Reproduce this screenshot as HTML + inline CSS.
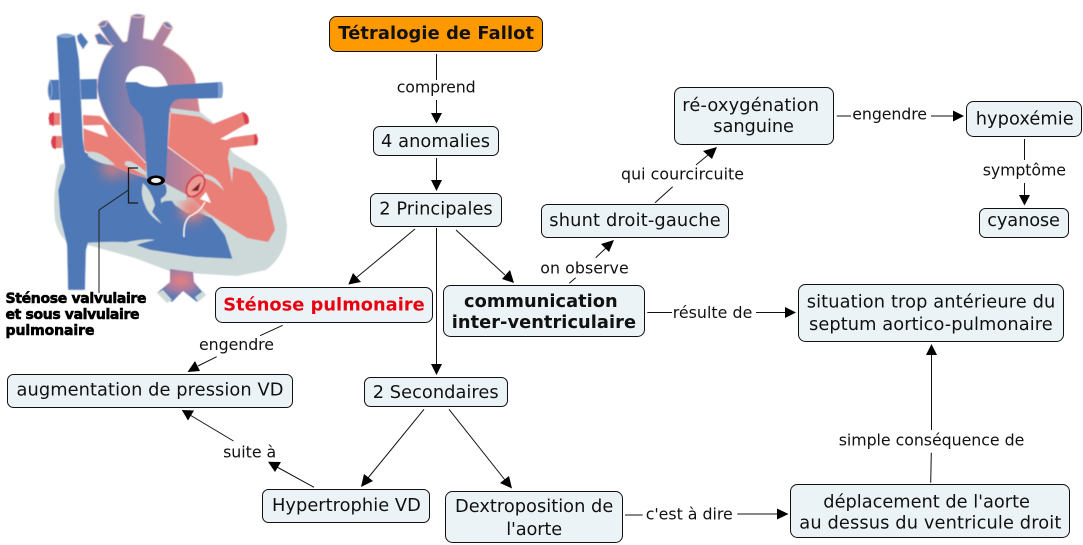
<!DOCTYPE html>
<html><head><meta charset="utf-8"><style>
html,body{margin:0;padding:0;background:#fff}
svg{display:block}
text{font-family:"DejaVu Sans","Liberation Sans",sans-serif;fill:#111}
.n{font-size:17.8px}
.b{font-size:17.8px;font-weight:bold}
.l{font-size:15.8px}
.r{fill:#ecf3f6;stroke:#111;stroke-width:1}
.c{stroke:#111;stroke-width:1;fill:none}
.a{fill:#000;stroke:none}
.h{font-size:14px;font-weight:bold;fill:#000;stroke:#000;stroke-width:.6}
</style></head><body>
<svg width="1083" height="545" viewBox="0 0 1083 545" xmlns="http://www.w3.org/2000/svg">
<defs>
<linearGradient id="ao" gradientUnits="userSpaceOnUse" x1="97" y1="0" x2="195" y2="0"><stop offset="0" stop-color="#5579b5"/><stop offset=".45" stop-color="#9a80a6"/><stop offset="1" stop-color="#cf8391"/></linearGradient>
<linearGradient id="tr" gradientUnits="userSpaceOnUse" x1="160" y1="0" x2="200" y2="0"><stop offset="0" stop-color="#9c7ea4"/><stop offset="1" stop-color="#d6838c"/></linearGradient>
<radialGradient id="ivc" cx=".5" cy=".35" r=".55"><stop offset="0" stop-color="#e87f7f"/><stop offset=".55" stop-color="#a87da0"/><stop offset="1" stop-color="#5379b6"/></radialGradient>
<filter id="s" x="-5%" y="-5%" width="110%" height="110%"><feGaussianBlur stdDeviation=".55"/></filter>
<filter id="s2" x="-60%" y="-60%" width="220%" height="220%"><feGaussianBlur stdDeviation="6"/></filter>
</defs>

<!-- heart illustration -->
<g filter="url(#s)">
<path fill="#cdd9d9" d="M60,165 Q52,190 55,220 Q60,240 72,245 L88,245 L135,258 L172,272 L237,276 L266,270 Q287,255 287,225 Q283,190 263,172 L233,153 L225,165 L213,122 L200,112 L170,108 L170,155 L90,152 Z"/>
<!-- pulmonary veins -->
<path fill="#ea7f78" d="M49,113 L60,113 L60,125 L49,125 Z M52,136 L62,136 L62,148 L52,148 Z"/>
<path fill="#d9404f" d="M48.5,118 Q50,112 54,112 L54,126 Q50,126 48.5,118 Z M51,142 Q52,135 56,136 L56,149 Q52,149 51,142 Z"/>
<path fill="#ea7f78" d="M83,115 L100,116 L112,127 L146,163 L146,178 L125,172 L100,160 L84,150 Z"/>
<path fill="#fff" d="M83,125.5 L103,125 L108,137 L84,128.5 Z"/>
<!-- aorta -->
<path fill="url(#ao)" stroke="#f2cccc" stroke-width=".8" d="M97,86 Q99,62 112,47 L98,25 L108,21 L123,42 Q125,42 127,41 L131,16 L145,16 L143,38 L153,40 L163,23 L173,28 L163,45 Q188,57 195,78 L200,113 L170,113 L168,147 L146,163 L112,127 Q98,105 97,86 Z"/>
<path fill="url(#ao)" stroke="#f2cccc" stroke-width=".8" d="M94.5,35 L100,33 L113,46 L98,44 Z"/>
<path fill="#6f84b4" stroke="#f2bcbc" stroke-width="1" d="M98,25 Q102,19 108,21 L105,26 Q100,28 98,25 Z"/>
<path fill="#6f84b4" stroke="#f2bcbc" stroke-width="1" d="M131,16 Q138,12 145,16 Q138,19 131,16 Z"/>
<path fill="#6f84b4" stroke="#f2bcbc" stroke-width="1" d="M163,23 Q168,19 173,28 Q166,30 163,23 Z"/>
<path fill="#fff" d="M125,84 Q128,67 142,66 Q161,66 168,86 L148,92 Z"/>
<!-- left heart -->
<path fill="#ea7f78" d="M170.7,113 L200,116.7 L213,124 L243,112 L248,123 L220,139 L257,134 L257,145 L230,148 L228,158 L232,183 L233,167 L250,172 L267,197 L275,230 L268,242 L247,238 L223,223 L208,213 L192,198 L203,173 L168,147 Z"/>
<path fill="#d9404f" d="M242,112 Q249,113 249,122 Q248,125 245,124 Z M254,134 Q258,135 258,140 Q258,146 254,145 Z"/>
<path fill="#cdd9d9" d="M230,148 L233,153 L233,172 L228,158 Z"/>
<path fill="#fff" d="M220,139 L240,134 L226,140 Z"/>
<path fill="url(#tr)" d="M167,147 L203,173 L188,198 L163,182 Z"/>
<path stroke="#f8dcd8" stroke-width="1" fill="none" d="M168,147 L203,173"/>
<path stroke="#f8dcd8" stroke-width="1" fill="none" d="M112,127 L146,163"/>
<!-- arm -->
<path fill="#5078b6" d="M50,80 L97,79 L97,99 L50,100 Z"/>
<path fill="#5078b6" stroke="#9ab3d8" stroke-width=".8" d="M50,80 Q46,90 50,100 Q54,90 50,80 Z"/>
<!-- right heart blue -->
<path fill="#5078b6" stroke="#cfe0ee" stroke-width=".4" d="M56.7,36 Q66,32 75,36 L79,60 L83,140 L85,152 Q105,163 128,172 L147,178 L165,190 L175,205 L187,213 L200,213 L212,218 L225,235 L232.7,259 L195,257 L150,250 L138,246 Q132,240 88,243 L86,250 L85,290 L68,290 L67,245 L60,217 L58,190 L65,167 L62,140 Z"/>
<path fill="#88a4cf" d="M57,36 Q66,31 75,36 Q66,40 57,36 Z"/>
<path fill="#5078b6" stroke="#9ab3d8" stroke-width=".7" d="M77,36 L81,33 L88,42 L83,49 L78,41 Z"/>
<circle cx="112" cy="168" r="10" fill="#ea7f78" filter="url(#s2)" opacity=".8"/>
<circle cx="130" cy="168" r="8" fill="#ea7f78" filter="url(#s2)" opacity=".8"/>
<circle cx="193" cy="209" r="12" fill="#ea8078" filter="url(#s2)"/>
<!-- grey strips -->
<path fill="#cdd9d9" d="M88,152 Q100,150 115,165 Q100,165 88,156 Z"/>
<path fill="#cdd9d9" d="M125,162 Q130,158 146,172 L146,176 Q135,170 125,165 Z"/>
<path fill="#cdd9d9" d="M143,183 Q152,192 155,205 L152,212 L162,224 Q148,215 145,205 Q140,195 143,183 Z"/>
<path fill="#cdd9d9" d="M165,183 L187,195 L186,200 L165,201 L161,203 L161,196 Q168,192 165,183 Z"/>
<path fill="#cdd9d9" d="M123,243 Q145,238 155,240 Q140,243 132,247 Z"/>
<path fill="#cdd9d9" d="M204,174 Q218,176 224,191 Q214,180 204,178 Z"/>
<!-- pulmonary artery -->
<path fill="#5078b6" d="M125,82 L137,82 Q148,90 170,85 L222,82 L222,98 L180,99 Q170,100 169,113 L166,178 L147,178 L145,140 L142,117 L130,103 Z"/>
<path fill="#7d9fd0" d="M218,82 L222,82 Q224,90 222,98 L218,98 Z"/>
<path fill="#cdd9d9" d="M170,108 L200,112 L200,116 L171,113 Z"/>
<path fill="#5078b6" d="M150,184 L165,184 Q170,195 160,199 Q150,196 150,184 Z"/>
<!-- inferior vessels -->
<path fill="url(#ivc)" d="M170,269 L193,272 L194,282 L205,295 L197,302 L183,291 L172,302 L157,293 L170,282 Z"/>
<path fill="#cdd9d9" d="M157,293 L163,290 L172,300 L167,303 Z M195,297 L203,291 L206,295 L198,302 Z"/>
<!-- aortic valve -->
<ellipse cx="195.5" cy="186" rx="7.5" ry="12" transform="rotate(35 195.5 186)" fill="#ee9a94" stroke="#d43c4c" stroke-width="1.8"/>
<path fill="#7f1c28" d="M191,191 L201,182 L198,191 Z"/>
<!-- white arrow -->
<path fill="none" stroke="#fff" stroke-width="1.3" d="M184,237 Q183,222 190,216 Q200,212 205,202"/>
<path fill="#fff" d="M200,199 L206,192 L211,203 Z"/>
</g>
<ellipse cx="156" cy="180.5" rx="9" ry="5" fill="#000"/>
<ellipse cx="156" cy="180.5" rx="5" ry="2.5" fill="#f2f2f2"/>
<path d="M138,168 L128.5,168 L128.5,203 L138,203" fill="none" stroke="#1a1a1a" stroke-width="1.3"/>
<path d="M128.5,190 L99,210 L99,293" fill="none" stroke="#2a2a2a" stroke-width="1.1"/>
<text class="h" x="5.5" y="303" textLength="141">Sténose valvulaire</text>
<text class="h" x="5.5" y="319" textLength="134">et sous valvulaire</text>
<text class="h" x="5.5" y="335" textLength="89">pulmonaire</text>

<!-- connectors -->
<g class="c">
<path d="M436.5,54V80M436.5,100V114"/>
<path d="M436.5,158V181"/>
<path d="M415,229L356,278"/>
<path d="M436.5,228V364"/>
<path d="M456,230L505,275"/>
<path d="M569.3,283.3L575.7,277.7M595.7,257.7L606,248"/>
<path d="M655,202.7L672.7,186.7M696,165L708,155"/>
<path d="M836.7,116H851M931,116H953"/>
<path d="M1024.5,139V160M1024.5,183V195"/>
<path d="M647.3,312.5H672M756,312.5H786"/>
<path d="M282.7,325.3L260,335.7M216.7,356.7L198,366"/>
<path d="M314,487.3L277,467"/>
<path d="M233.5,441L190,415"/>
<path d="M424,409.3L368,478"/>
<path d="M449,409.3L505,480"/>
<path d="M625,515H642.7M737.3,514H778"/>
<path d="M930.7,482.7L931.3,452.7M931.5,430V354"/>
</g>
<g class="a">
<path d="M436.5,123.5L431,113H442Z"/>
<path d="M436.5,191L431,180H442Z"/>
<path d="M348.3,284.5L353,273L361,282Z"/>
<path d="M436.5,375L431,364H442Z"/>
<path d="M514,283L502,279L510,270Z"/>
<path d="M614,240L609,252L601,244Z"/>
<path d="M717,147L712,159L703,151Z"/>
<path d="M964,116L953,110.5V121.5Z"/>
<path d="M1024.5,205.5L1019,195H1030Z"/>
<path d="M796,312.5L785,307V318Z"/>
<path d="M187.5,372L195,361L200,371Z"/>
<path d="M268,461.7L281,462L275,472Z"/>
<path d="M181.8,410L194,410.5L188,420.5Z"/>
<path d="M361,487L364,474L373,481Z"/>
<path d="M512,488.5L500,483L509,476Z"/>
<path d="M788.5,514L777,508.5V519.5Z"/>
<path d="M931.5,344L926,355H937Z"/>
</g>

<!-- nodes -->
<rect x="329.5" y="16.5" width="213" height="35" rx="7" fill="#ff9900" stroke="#111"/>
<rect class="r" x="373.5" y="126.5" width="125" height="29" rx="6"/>
<rect class="r" x="370.5" y="193.5" width="131" height="33" rx="6"/>
<rect class="r" x="541.5" y="204.5" width="187" height="33" rx="6"/>
<rect class="r" x="674.5" y="87.5" width="159" height="57" rx="7"/>
<rect class="r" x="966.5" y="101.5" width="115" height="35" rx="7"/>
<rect class="r" x="979.5" y="208.5" width="89" height="29" rx="6"/>
<rect class="r" x="215.5" y="287.5" width="217" height="35" rx="7"/>
<rect class="r" x="443.5" y="285.5" width="201" height="51" rx="7"/>
<rect class="r" x="798.5" y="284.5" width="265" height="57" rx="7"/>
<rect class="r" x="7.5" y="374.5" width="285" height="33" rx="6"/>
<rect class="r" x="364.5" y="377.5" width="143" height="29" rx="6"/>
<rect class="r" x="262.5" y="489.5" width="167" height="33" rx="6"/>
<rect class="r" x="445.5" y="491.5" width="177" height="51" rx="7"/>
<rect class="r" x="790.5" y="484.5" width="279" height="53" rx="7"/>

<!-- node text -->
<text class="b" x="338.3" y="39" textLength="195.7">Tétralogie de Fallot</text>
<text class="n" x="381" y="147" textLength="109">4 anomalies</text>
<text class="n" x="379.3" y="214.5" textLength="113.4">2 Principales</text>
<text class="n" x="549.3" y="226" textLength="171.4">shunt droit-gauche</text>
<text class="n" x="682.3" y="111" textLength="136.7">ré-oxygénation</text>
<text class="n" x="713.3" y="132" textLength="80.7">sanguine</text>
<text class="n" x="975.7" y="124.5" textLength="98">hypoxémie</text>
<text class="n" x="987.3" y="226" textLength="72.7">cyanose</text>
<text class="b" x="223.3" y="310.5" textLength="201.4" style="fill:#e8000f">Sténose pulmonaire</text>
<text class="b" x="464" y="307" textLength="153.7">communication</text>
<text class="b" x="451.7" y="328" textLength="184.3">inter-ventriculaire</text>
<text class="n" x="806.7" y="307.5" textLength="248.6">situation trop antérieure du</text>
<text class="n" x="809" y="330" textLength="243.7">septum aortico-pulmonaire</text>
<text class="n" x="16.5" y="395.5" textLength="266.9">augmentation de pression VD</text>
<text class="n" x="372.7" y="398" textLength="125.9">2 Secondaires</text>
<text class="n" x="272" y="511" textLength="148.8">Hypertrophie VD</text>
<text class="n" x="455" y="512" textLength="158.3">Dextroposition de</text>
<text class="n" x="506.2" y="535" textLength="56">l'aorte</text>
<text class="n" x="823.3" y="507.5" textLength="206.7">déplacement de l'aorte</text>
<text class="n" x="799.3" y="528.7" textLength="262">au dessus du ventricule droit</text>

<!-- link labels -->
<text class="l" x="396.7" y="92.7" textLength="79">comprend</text>
<text class="l" x="852.3" y="119.5" textLength="74.7">engendre</text>
<text class="l" x="982.7" y="175.5" textLength="83.3">symptôme</text>
<text class="l" x="621" y="179.5" textLength="123">qui courcircuite</text>
<text class="l" x="540.3" y="273.5" textLength="88.4">on observe</text>
<text class="l" x="672.7" y="318" textLength="79.6">résulte de</text>
<text class="l" x="199" y="350" textLength="75">engendre</text>
<text class="l" x="223.1" y="457.5" textLength="53.1">suite à</text>
<text class="l" x="645.7" y="519.3" textLength="87">c'est à dire</text>
<text class="l" x="838.7" y="445.7" textLength="185.6">simple conséquence de</text>
</svg>
</body></html>
